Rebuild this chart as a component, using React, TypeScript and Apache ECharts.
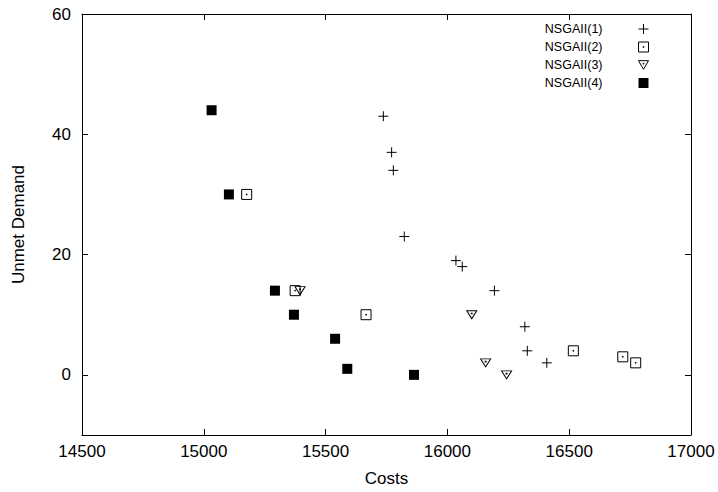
import React, { useEffect, useRef } from "react";
import * as echarts from "echarts";

const seriesNames = ["NSGAII(1)", "NSGAII(2)", "NSGAII(3)", "NSGAII(4)"];

// [cost, unmet demand]
const nsga1: [number, number][] = [
  [15737, 43], [15771, 37], [15778, 34], [15823, 23], [16035, 19],
  [16061, 18], [16193, 14], [16318, 8], [16328, 4], [16408, 2],
];
const nsga2: [number, number][] = [
  [15176, 30], [15375, 14], [15666, 10], [16517, 4], [16720, 3], [16773, 2],
];
const nsga3: [number, number][] = [
  [15395, 14], [16100, 10], [16157, 2], [16243, 0],
];
const nsga4: [number, number][] = [
  [15032, 44], [15103, 30], [15292, 14], [15370, 10], [15539, 6], [15589, 1], [15863, 0],
];

const xTicks = [14500, 15000, 15500, 16000, 16500, 17000];
const yTicks = [0, 20, 40, 60];

const FONT = "'Liberation Sans', Arial, Helvetica, sans-serif";

const plusPath = "path://M0,5L10,5M5,0L5,10";
const boxPath = "path://M0,0L10,0L10,10L0,10ZM4.6,4.6L5.4,4.6L5.4,5.4L4.6,5.4Z";
const triPath = "path://M0,0L10,0L5,8.66ZM4.6,2.6L5.4,2.6L5.4,3.4L4.6,3.4Z";

export default function App() {
  const ref = useRef<HTMLDivElement>(null);
  useEffect(() => {
    const chart = echarts.init(ref.current!, null, { renderer: "svg" });
    const axisCommonX = {
      type: "value" as const,
      min: xTicks[0],
      max: xTicks[xTicks.length - 1],
      interval: 500,
      splitLine: { show: false },
      axisLine: { show: true, onZero: false, lineStyle: { color: "#000", width: 1 } },
      axisTick: { show: true, inside: true, length: 6, lineStyle: { color: "#000", width: 1 } },
    };
    const axisCommonY = {
      type: "value" as const,
      min: -10,
      max: 60,
      splitLine: { show: false },
      axisLine: { show: true, onZero: false, lineStyle: { color: "#000", width: 1 } },
      axisTick: {
        show: true, inside: true, length: 6,
        customValues: yTicks,
        lineStyle: { color: "#000", width: 1 },
      },
    };
    const stroked = {
      color: "transparent",
      borderColor: "#000",
      borderWidth: 1,
      opacity: 1,
    };
    chart.setOption({
      animation: false,
      backgroundColor: "#fff",
      textStyle: { fontFamily: FONT },
      grid: { left: 82, right: 27, top: 14, bottom: 56, containLabel: false },
      legend: {
        show: true,
        orient: "vertical",
        align: "right",
        right: 69,
        top: 22,
        padding: 0,
        itemWidth: 10,
        itemHeight: 10,
        itemGap: 4,
        selectedMode: false,
        data: seriesNames,
        itemStyle: { borderWidth: 1 },
        textStyle: {
          fontFamily: FONT,
          fontSize: 12.5,
          color: "#000",
          lineHeight: 14,
          padding: [0, 31, 0, 0],
        },
      },
      xAxis: [
        {
          ...axisCommonX,
          position: "bottom",
          name: "Costs",
          nameLocation: "middle",
          nameGap: 35,
          nameTextStyle: { fontFamily: FONT, fontSize: 17, color: "#000" },
          axisLabel: {
            show: true, color: "#000", fontSize: 17, fontFamily: FONT, margin: 8,
            formatter: (v: number) => String(v),
          },
        },
        {
          ...axisCommonX,
          position: "top",
          axisLabel: { show: false },
        },
      ],
      yAxis: [
        {
          ...axisCommonY,
          position: "left",
          name: "Unmet Demand",
          nameLocation: "middle",
          nameGap: 55,
          nameTextStyle: { fontFamily: FONT, fontSize: 17, color: "#000" },
          axisLabel: {
            show: true, color: "#000", fontSize: 17, fontFamily: FONT, margin: 11,
            customValues: yTicks,
            formatter: (v: number) => String(v),
          },
        },
        {
          ...axisCommonY,
          position: "right",
          axisLabel: { show: false },
        },
      ],
      series: [
        {
          name: seriesNames[0],
          type: "scatter",
          data: nsga1,
          symbol: plusPath,
          symbolSize: 10,
          itemStyle: stroked,
        },
        {
          name: seriesNames[1],
          type: "scatter",
          data: nsga2,
          symbol: boxPath,
          symbolSize: 10,
          itemStyle: stroked,
        },
        {
          name: seriesNames[2],
          type: "scatter",
          data: nsga3,
          symbol: triPath,
          symbolSize: [10, 8],
          itemStyle: stroked,
        },
        {
          name: seriesNames[3],
          type: "scatter",
          data: nsga4,
          symbol: "rect",
          symbolSize: 10,
          itemStyle: { color: "#000", opacity: 1 },
        },
      ],
    });
    return () => chart.dispose();
  }, []);
  return (
    <div
      ref={ref}
      style={{ position: "fixed", left: 0, top: 0, width: 718, height: 492 }}
    />
  );
}
